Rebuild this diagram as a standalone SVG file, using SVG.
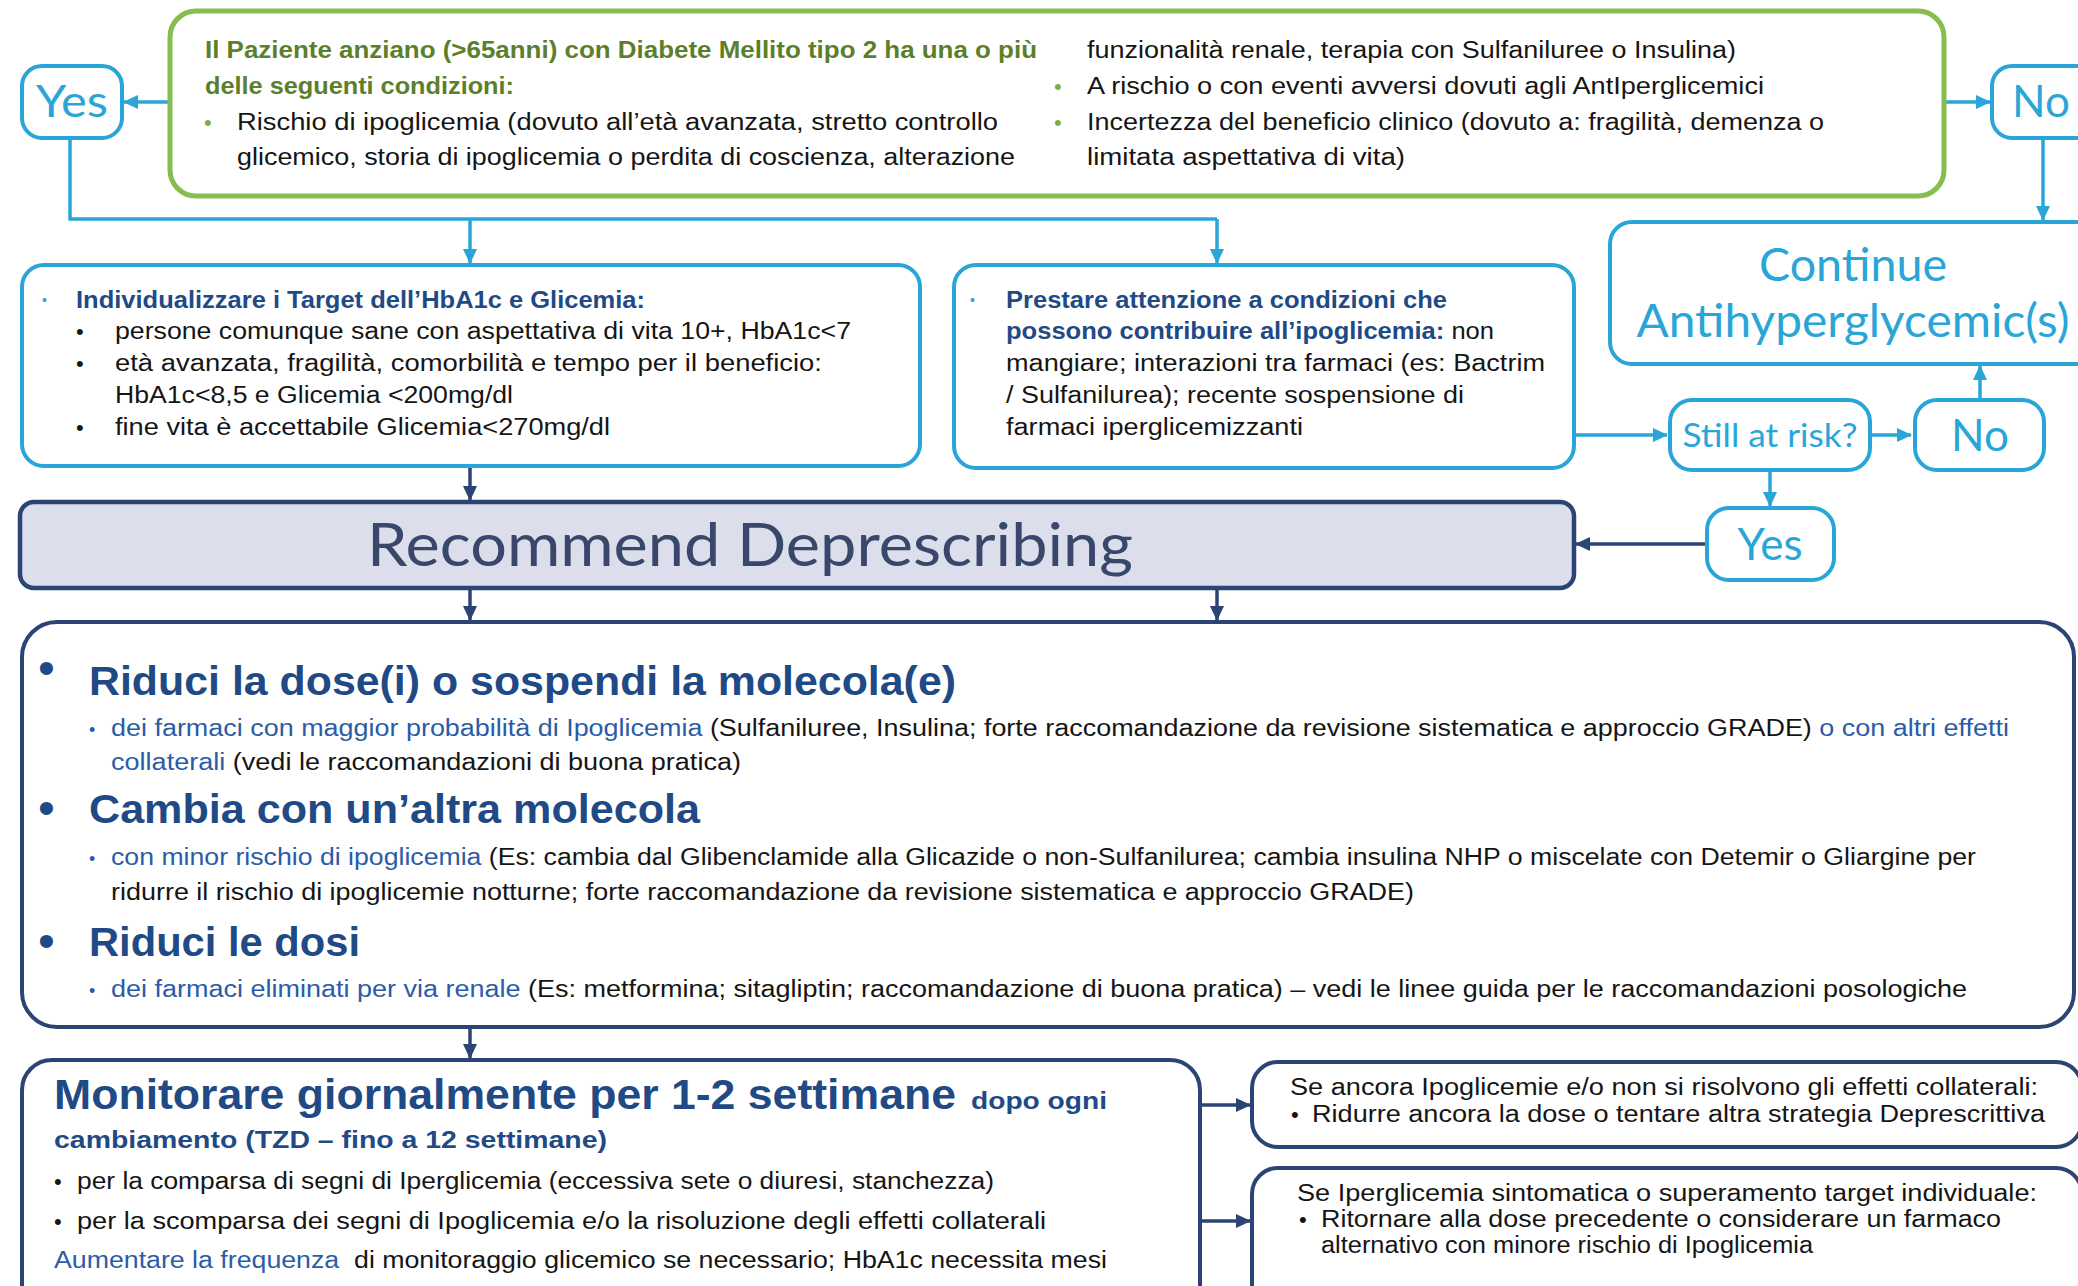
<svg xmlns="http://www.w3.org/2000/svg" width="2078" height="1286" viewBox="0 0 2078 1286">
<style>
.bg{fill:#ffffff}
.gbox{fill:#fff;stroke:#86bd4f;stroke-width:5}
.cbox{fill:#fff;stroke:#2aa5d8;stroke-width:4}
.nbox{fill:#fff;stroke:#2b4474;stroke-width:4}
.rbox{fill:#dcdeec;stroke:#2b4474;stroke-width:4.5}
.cl{fill:none;stroke:#2aa5d8;stroke-width:3.5}
.nl{fill:none;stroke:#2b4474;stroke-width:3.5}
.t{font-family:"Liberation Sans",Arial,sans-serif;font-size:23px;fill:#151515}
.tb{font-family:"Liberation Sans",Arial,sans-serif;font-size:23.5px;font-weight:bold}
.green{fill:#5b7f2b}
.navy{fill:#1f4a85}
.blue{fill:#2a5ca8}
.blk{fill:#151515}
.round{font-family:Lato,"Open Sans",sans-serif;fill:#2aa5d8;text-anchor:middle}
.h1{font-family:"Liberation Sans",Arial,sans-serif;font-weight:bold;font-size:40px;fill:#1f4a85}
.bul{font-family:"Liberation Sans",Arial,sans-serif;font-size:22px}
.bigbul{font-family:"Liberation Sans",Arial,sans-serif;font-size:48px;fill:#1f4a85}
.smbul{font-family:"Liberation Sans",Arial,sans-serif;font-size:18px;fill:#2a5ca8}
.tinybul{font-family:"Liberation Sans",Arial,sans-serif;font-size:14px;fill:#2aa5d8}
</style>
<defs>
<marker id="ac" markerUnits="userSpaceOnUse" markerWidth="16" markerHeight="16" refX="14" refY="8" orient="auto"><path d="M0,1 L15,8 L0,15 Z" fill="#2aa5d8"/></marker>
<marker id="an" markerUnits="userSpaceOnUse" markerWidth="16" markerHeight="16" refX="14" refY="8" orient="auto"><path d="M0,1 L15,8 L0,15 Z" fill="#2b4474"/></marker>
</defs>
<rect class="bg" x="0" y="0" width="2078" height="1286"/>

<g id="connectors">
<line class="cl" x1="170" y1="102" x2="124" y2="102" marker-end="url(#ac)"/>
<line class="cl" x1="1944" y1="102" x2="1990" y2="102" marker-end="url(#ac)"/>
<line class="cl" x1="2043" y1="138" x2="2043" y2="220" marker-end="url(#ac)"/>
<polyline class="cl" points="70,138 70,219 1217,219"/>
<line class="cl" x1="470" y1="219" x2="470" y2="263" marker-end="url(#ac)"/>
<line class="cl" x1="1217" y1="219" x2="1217" y2="263" marker-end="url(#ac)"/>
<line class="cl" x1="1574" y1="435" x2="1667" y2="435" marker-end="url(#ac)"/>
<line class="cl" x1="1870" y1="435" x2="1911" y2="435" marker-end="url(#ac)"/>
<line class="cl" x1="1980" y1="400" x2="1980" y2="366" marker-end="url(#ac)"/>
<line class="cl" x1="1770" y1="470" x2="1770" y2="506" marker-end="url(#ac)"/>
<line class="nl" x1="1707" y1="544" x2="1576" y2="544" marker-end="url(#an)"/>
<line class="nl" x1="470" y1="466" x2="470" y2="500" marker-end="url(#an)"/>
<line class="nl" x1="470" y1="588" x2="470" y2="620" marker-end="url(#an)"/>
<line class="nl" x1="1217" y1="588" x2="1217" y2="620" marker-end="url(#an)"/>
<line class="nl" x1="470" y1="1027" x2="470" y2="1058" marker-end="url(#an)"/>
<line class="nl" x1="1200" y1="1105" x2="1250" y2="1105" marker-end="url(#an)"/>
<line class="nl" x1="1200" y1="1221" x2="1250" y2="1221" marker-end="url(#an)"/>
</g>

<g id="condizioni">
<rect class="gbox" x="170" y="11" width="1774" height="185" rx="26"/>
<text class="tb green" x="205" y="58" textLength="832" lengthAdjust="spacingAndGlyphs">Il Paziente anziano (&gt;65anni) con Diabete Mellito tipo 2 ha una o più</text>
<text class="tb green" x="205" y="94" textLength="309" lengthAdjust="spacingAndGlyphs">delle seguenti condizioni:</text>
<text class="bul" x="204" y="130" fill="#7fae3d">•</text>
<text class="t" x="237" y="130" textLength="761" lengthAdjust="spacingAndGlyphs">Rischio di ipoglicemia (dovuto all’età avanzata, stretto controllo</text>
<text class="t" x="237" y="165" textLength="778" lengthAdjust="spacingAndGlyphs">glicemico, storia di ipoglicemia o perdita di coscienza, alterazione</text>
<text class="t" x="1087" y="58" textLength="649" lengthAdjust="spacingAndGlyphs">funzionalità renale, terapia con Sulfaniluree o Insulina)</text>
<text class="bul" x="1054" y="94" fill="#7fae3d">•</text>
<text class="t" x="1087" y="94" textLength="677" lengthAdjust="spacingAndGlyphs">A rischio o con eventi avversi dovuti agli AntIperglicemici</text>
<text class="bul" x="1054" y="130" fill="#7fae3d">•</text>
<text class="t" x="1087" y="130" textLength="737" lengthAdjust="spacingAndGlyphs">Incertezza del beneficio clinico (dovuto a: fragilità, demenza o</text>
<text class="t" x="1087" y="165" textLength="318" lengthAdjust="spacingAndGlyphs">limitata aspettativa di vita)</text>
</g>

<g id="yes-top">
<rect class="cbox" x="22" y="66" width="100" height="72" rx="20"/>
<text class="round" x="72" y="117" font-size="44" textLength="72" lengthAdjust="spacingAndGlyphs">Yes</text>
</g>

<g id="no-top">
<rect class="cbox" x="1992" y="66" width="110" height="72" rx="20"/>
<text class="round" x="2041" y="117" font-size="44">No</text>
</g>

<g id="individualizzare">
<rect class="cbox" x="22" y="265" width="898" height="201" rx="22"/>
<text class="tinybul" x="42" y="305">•</text>
<text class="tb navy" x="76" y="308" textLength="569" lengthAdjust="spacingAndGlyphs">Individualizzare i Target dell’HbA1c e Glicemia:</text>
<text class="bul blk" x="76" y="339">•</text>
<text class="t" x="115" y="339" textLength="736" lengthAdjust="spacingAndGlyphs">persone comunque sane con aspettativa di vita 10+, HbA1c&lt;7</text>
<text class="bul blk" x="76" y="371">•</text>
<text class="t" x="115" y="371" textLength="707" lengthAdjust="spacingAndGlyphs">età avanzata, fragilità, comorbilità e tempo per il beneficio:</text>
<text class="t" x="115" y="403" textLength="398" lengthAdjust="spacingAndGlyphs">HbA1c&lt;8,5 e Glicemia &lt;200mg/dl</text>
<text class="bul blk" x="76" y="435">•</text>
<text class="t" x="115" y="435" textLength="495" lengthAdjust="spacingAndGlyphs">fine vita è accettabile Glicemia&lt;270mg/dl</text>
</g>

<g id="prestare">
<rect class="cbox" x="954" y="265" width="620" height="203" rx="22"/>
<text class="tinybul" x="970" y="305">•</text>
<text class="tb navy" x="1006" y="308" textLength="441" lengthAdjust="spacingAndGlyphs">Prestare attenzione a condizioni che</text>
<text class="t" x="1006" y="339" textLength="488" lengthAdjust="spacingAndGlyphs"><tspan class="navy" font-weight="bold">possono contribuire all’ipoglicemia:</tspan> non</text>
<text class="t" x="1006" y="371" textLength="539" lengthAdjust="spacingAndGlyphs">mangiare; interazioni tra farmaci (es: Bactrim</text>
<text class="t" x="1006" y="403" textLength="458" lengthAdjust="spacingAndGlyphs">/ Sulfanilurea); recente sospensione di</text>
<text class="t" x="1006" y="435" textLength="297" lengthAdjust="spacingAndGlyphs">farmaci iperglicemizzanti</text>
</g>

<g id="continue">
<rect class="cbox" x="1610" y="222" width="500" height="142" rx="22"/>
<text class="round" x="1853" y="281" font-size="46" textLength="188" lengthAdjust="spacingAndGlyphs">Continue</text>
<text class="round" x="1853" y="337" font-size="46" textLength="433" lengthAdjust="spacingAndGlyphs">Antihyperglycemic(s)</text>
</g>

<g id="still-at-risk">
<rect class="cbox" x="1670" y="400" width="200" height="70" rx="22"/>
<text class="round" x="1770" y="447" font-size="33" textLength="175" lengthAdjust="spacingAndGlyphs">Still at risk?</text>
</g>

<g id="no-mid">
<rect class="cbox" x="1915" y="400" width="129" height="70" rx="22"/>
<text class="round" x="1980" y="451" font-size="44">No</text>
</g>

<g id="yes-mid">
<rect class="cbox" x="1707" y="508" width="127" height="72" rx="22"/>
<text class="round" x="1770" y="560" font-size="44">Yes</text>
</g>

<g id="recommend">
<rect class="rbox" x="20" y="502" width="1554" height="86" rx="14"/>
<text class="round" x="750" y="566" font-size="60" style="fill:#38476a" textLength="766" lengthAdjust="spacingAndGlyphs">Recommend Deprescribing</text>
</g>

<g id="azioni">
<rect class="nbox" x="22" y="622" width="2052" height="405" rx="35"/>
<text class="bigbul" x="38" y="684">•</text>
<text class="h1" x="89" y="695" textLength="867" lengthAdjust="spacingAndGlyphs">Riduci la dose(i) o sospendi la molecola(e)</text>
<text class="smbul" x="89" y="736">•</text>
<text class="t" x="111" y="736" textLength="1898" lengthAdjust="spacingAndGlyphs"><tspan class="blue">dei farmaci con maggior probabilità di Ipoglicemia</tspan> (Sulfaniluree, Insulina; forte raccomandazione da revisione sistematica e approccio GRADE) <tspan class="blue">o con altri effetti</tspan></text>
<text class="t" x="111" y="770" textLength="630" lengthAdjust="spacingAndGlyphs"><tspan class="blue">collaterali</tspan> (vedi le raccomandazioni di buona pratica)</text>
<text class="bigbul" x="38" y="824">•</text>
<text class="h1" x="89" y="823" textLength="611" lengthAdjust="spacingAndGlyphs">Cambia con un’altra molecola</text>
<text class="smbul" x="89" y="865">•</text>
<text class="t" x="111" y="865" textLength="1865" lengthAdjust="spacingAndGlyphs"><tspan class="blue">con minor rischio di ipoglicemia</tspan> (Es: cambia dal Glibenclamide alla Glicazide o non-Sulfanilurea; cambia insulina NHP o miscelate con Detemir o Gliargine per</text>
<text class="t" x="111" y="900" textLength="1303" lengthAdjust="spacingAndGlyphs">ridurre il rischio di ipoglicemie notturne; forte raccomandazione da revisione sistematica e approccio GRADE)</text>
<text class="bigbul" x="38" y="957">•</text>
<text class="h1" x="89" y="956" textLength="271" lengthAdjust="spacingAndGlyphs">Riduci le dosi</text>
<text class="smbul" x="89" y="997">•</text>
<text class="t" x="111" y="997" textLength="1856" lengthAdjust="spacingAndGlyphs"><tspan class="blue">dei farmaci eliminati per via renale</tspan> (Es: metformina; sitagliptin; raccomandazione di buona pratica) – vedi le linee guida per le raccomandazioni posologiche</text>
</g>

<g id="monitorare">
<rect class="nbox" x="22" y="1060" width="1178" height="270" rx="30"/>
<text class="h1" x="54" y="1109" style="font-size:42px" textLength="902" lengthAdjust="spacingAndGlyphs">Monitorare giornalmente per 1-2 settimane</text>
<text class="tb navy" x="971" y="1109" textLength="136" lengthAdjust="spacingAndGlyphs">dopo ogni</text>
<text class="tb navy" x="54" y="1148" textLength="553" lengthAdjust="spacingAndGlyphs">cambiamento (TZD – fino a 12 settimane)</text>
<text class="bul blk" x="54" y="1189">•</text>
<text class="t" x="77" y="1189" textLength="917" lengthAdjust="spacingAndGlyphs">per la comparsa di segni di Iperglicemia (eccessiva sete o diuresi, stanchezza)</text>
<text class="bul blk" x="54" y="1229">•</text>
<text class="t" x="77" y="1229" textLength="969" lengthAdjust="spacingAndGlyphs">per la scomparsa dei segni di Ipoglicemia e/o la risoluzione degli effetti collaterali</text>
<text class="t" x="54" y="1268" textLength="1053" lengthAdjust="spacingAndGlyphs" xml:space="preserve"><tspan class="blue">Aumentare la frequenza</tspan>  di monitoraggio glicemico se necessario; HbA1c necessita mesi</text>
</g>

<g id="ancora-ipoglicemie">
<rect class="nbox" x="1252" y="1062" width="830" height="85" rx="26"/>
<text class="t" x="1290" y="1095" textLength="748" lengthAdjust="spacingAndGlyphs">Se ancora Ipoglicemie e/o non si risolvono gli effetti collaterali:</text>
<text class="bul blk" x="1291" y="1122">•</text>
<text class="t" x="1312" y="1122" textLength="733" lengthAdjust="spacingAndGlyphs">Ridurre ancora la dose o tentare altra strategia Deprescrittiva</text>
</g>

<g id="iperglicemia">
<rect class="nbox" x="1252" y="1168" width="830" height="150" rx="26"/>
<text class="t" x="1297" y="1201" textLength="740" lengthAdjust="spacingAndGlyphs">Se Iperglicemia sintomatica o superamento target individuale:</text>
<text class="bul blk" x="1299" y="1227">•</text>
<text class="t" x="1321" y="1227" textLength="680" lengthAdjust="spacingAndGlyphs">Ritornare alla dose precedente o considerare un farmaco</text>
<text class="t" x="1321" y="1253" textLength="492" lengthAdjust="spacingAndGlyphs">alternativo con minore rischio di Ipoglicemia</text>
</g>
</svg>
